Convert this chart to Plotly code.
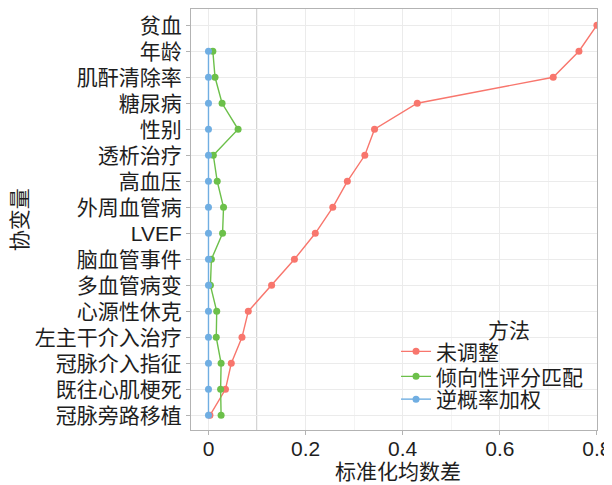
import plotly.graph_objects as go

categories = ["冠脉旁路移植", "既往心肌梗死", "冠脉介入指征", "左主干介入治疗", "心源性休克",
              "多血管病变", "脑血管事件", "LVEF", "外周血管病", "高血压", "透析治疗", "性别",
              "糖尿病", "肌酐清除率", "年龄", "贫血"]

unadjusted = [0.003, 0.035, 0.047, 0.069, 0.082, 0.130, 0.177, 0.220, 0.256, 0.286, 0.322, 0.342,
              0.430, 0.710, 0.763, 0.800]
psm = [0.026, 0.025, 0.026, 0.016, 0.017, 0.004, 0.006, 0.029, 0.031, 0.018, 0.010, 0.061,
       0.028, 0.0135, 0.009, None]
iptw = [0, 0, 0, 0, 0, 0, 0, 0, 0, 0, 0, 0, 0, 0, 0, None]

series_names = ["未调整", "倾向性评分匹配", "逆概率加权"]
series_colors = ["#F8766D", "#6CC04A", "#70AEE2"]
series_values = [unadjusted, psm, iptw]

xticks = [0, 0.2, 0.4, 0.6, 0.8]
xticklabels = ["0", "0.2", "0.4", "0.6", "0.8"]
threshold = 0.1

FONT = "Liberation Sans, Noto Sans CJK SC, sans-serif"
TXT = "#1e1e1e"
FS = 21

legend_ids = ["legend", "legend2", "legend3"]
legend_ys = [0.186, 0.1266, 0.0725]

fig = go.Figure()
for name, color, vals, lid in zip(series_names, series_colors, series_values, legend_ids):
    fig.add_trace(go.Scatter(
        x=vals, y=categories, name=name, mode="lines+markers",
        line=dict(color=color, width=1.4),
        marker=dict(color=color, size=7),
        connectgaps=False, legend=lid,
    ))

fig.add_shape(type="line", xref="x", yref="paper", x0=threshold, x1=threshold, y0=0, y1=1,
              line=dict(color="#a6a6a6", width=1), layer="below")

legend_common = dict(x=0.505, xanchor="left", yanchor="middle",
                     bgcolor="rgba(255,255,255,0)", font=dict(size=FS, color=TXT),
                     itemwidth=30)

# page body has an 8px default margin, so the figure is sized to fit the 612x485 window
fig.update_layout(
    width=604, height=477,
    margin=dict(l=183, r=11, t=0, b=55),
    paper_bgcolor="white", plot_bgcolor="white",
    font=dict(family=FONT, size=FS, color=TXT),
    showlegend=True,
    legend=dict(y=legend_ys[0], **legend_common),
    legend2=dict(y=legend_ys[1], **legend_common),
    legend3=dict(y=legend_ys[2], **legend_common),
    xaxis=dict(
        range=[-0.036, 0.8002], tickvals=xticks, ticktext=xticklabels,
        showgrid=True, gridcolor="#ebebeb", gridwidth=1,
        minor=dict(dtick=0.1, tick0=0, showgrid=True, gridcolor="#f4f4f4", gridwidth=1, ticks=""),
        zeroline=False, showline=True, linecolor="#b3b3b3", linewidth=1, mirror=True,
        ticks="outside", ticklen=4, tickcolor="#b3b3b3", ticklabelstandoff=-4,
        ticklabeloverflow="allow",
        tickfont=dict(size=FS, color=TXT),
    ),
    yaxis=dict(
        type="category", categoryorder="array", categoryarray=categories,
        range=[-0.564, 15.625],
        showgrid=True, gridcolor="#ebebeb", gridwidth=1,
        zeroline=False, showline=True, linecolor="#b3b3b3", linewidth=1, mirror=True,
        ticks="outside", ticklen=4, tickcolor="#b3b3b3",
        tickfont=dict(size=FS, color=TXT),
    ),
    annotations=[
        dict(text="协变量", xref="paper", yref="paper", x=-0.422, y=0.5,
             xanchor="center", yanchor="middle", textangle=-90, showarrow=False,
             font=dict(size=FS, color=TXT)),
        dict(text="标准化均数差", xref="paper", yref="paper", x=0.51, y=-0.0995,
             xanchor="center", yanchor="middle", showarrow=False,
             font=dict(size=FS, color=TXT)),
        dict(text="方法", xref="paper", yref="paper", x=0.783, y=0.237,
             xanchor="center", yanchor="middle", showarrow=False,
             font=dict(size=FS, color=TXT)),
    ],
)

fig.write_html("out.html")
